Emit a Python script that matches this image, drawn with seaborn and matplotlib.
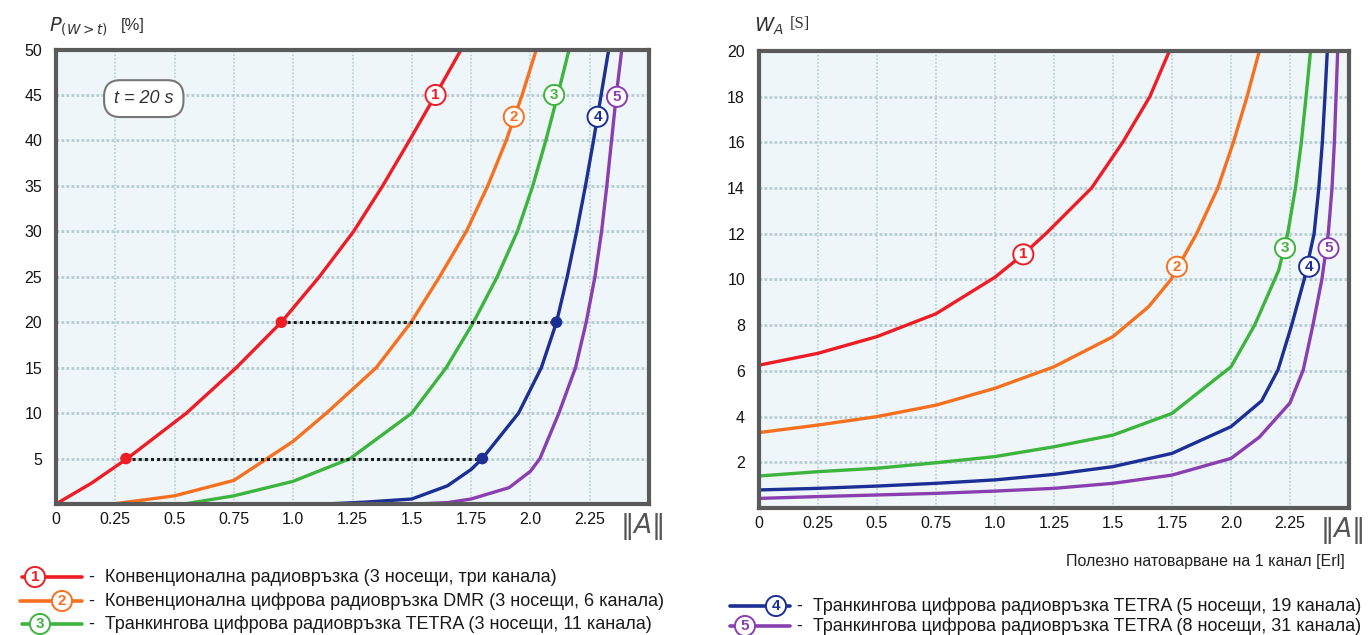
import numpy as np
import pandas as pd
import matplotlib
matplotlib.use("Agg")
import matplotlib.pyplot as plt
import seaborn as sns

# Left chart: P(W>t) [%] vs load A, t = 20 s
p_levels = [0, 2.3, 5, 10, 15, 20, 25, 30, 35, 40, 45, 50]
left_A1 = [0, 0.15, 0.3, 0.55, 0.76, 0.95, 1.11, 1.255, 1.377, 1.49, 1.60, 1.708]
left_A2 = [0.24, 0.5, 0.75, 0.89, 1.0, 1.14, 1.35, 1.497, 1.617, 1.73, 1.82, 1.898, 1.965, 2.025]
left_P2 = [0, 0.9, 2.6, 5, 6.9, 10, 15, 20, 25, 30, 35, 40, 45, 50]
left_A3 = [0.54, 0.75, 1.0, 1.24, 1.5, 1.645, 1.76, 1.86, 1.945, 2.01, 2.065, 2.115, 2.163]
left_P3 = [0, 0.9, 2.5, 5, 10, 15, 20, 25, 30, 35, 40, 45, 50]
left_A4 = [1.135, 1.3, 1.5, 1.65, 1.75, 1.797, 1.95, 2.046, 2.11, 2.155, 2.195, 2.232, 2.266, 2.298, 2.33]
left_P4 = [0, 0.2, 0.55, 2.0, 3.8, 5, 10, 15, 20, 25, 30, 35, 40, 45, 50]
left_A5 = [1.523, 1.65, 1.75, 1.91, 2.0, 2.04, 2.12, 2.19, 2.235, 2.272, 2.30, 2.322, 2.342, 2.362, 2.385]
left_P5 = [0, 0.15, 0.55, 1.8, 3.6, 5, 10, 15, 20, 25, 30, 35, 40, 45, 50]
left_label_pos = [(1.60, 45), (1.93, 42.6), (2.10, 45), (2.283, 42.6), (2.365, 44.8)]
mark_P = [5, 20]
mark_A_red = [0.295, 0.95]
mark_A_blue = [1.797, 2.11]

# Right chart: W_A [s] vs load A
right_A1 = [0, 0.25, 0.5, 0.75, 1.0, 1.12, 1.22, 1.409, 1.541, 1.656, 1.739]
right_W1 = [6.25, 6.77, 7.5, 8.5, 10.1, 11.1, 12.05, 14, 16, 18, 20]
right_A2 = [0, 0.25, 0.5, 0.75, 1.0, 1.25, 1.5, 1.65, 1.746, 1.854, 1.944, 2.01, 2.068, 2.12]
right_W2 = [3.3, 3.63, 4.0, 4.5, 5.24, 6.18, 7.5, 8.8, 10, 12, 14, 16, 18, 20]
right_A3 = [0, 0.25, 0.5, 0.75, 1.0, 1.25, 1.5, 1.75, 2.0, 2.10, 2.202, 2.24, 2.273, 2.298, 2.318, 2.337]
right_W3 = [1.4, 1.59, 1.74, 1.98, 2.25, 2.68, 3.19, 4.14, 6.18, 8, 10.4, 12, 14, 16, 18, 20]
right_A4 = [0, 0.25, 0.5, 0.75, 1.0, 1.25, 1.5, 1.75, 2.0, 2.13, 2.199, 2.257, 2.31, 2.352, 2.372, 2.387, 2.398, 2.408]
right_W4 = [0.79, 0.86, 0.96, 1.08, 1.23, 1.47, 1.81, 2.39, 3.56, 4.69, 6.04, 8, 10, 12, 14, 16, 18, 20]
right_A5 = [0, 0.25, 0.5, 0.75, 1.0, 1.25, 1.5, 1.75, 2.0, 2.12, 2.25, 2.306, 2.347, 2.385, 2.412, 2.428, 2.438, 2.452]
right_W5 = [0.42, 0.5, 0.57, 0.64, 0.74, 0.86, 1.08, 1.44, 2.17, 3.1, 4.6, 6.04, 8, 10, 12, 14, 16, 20]
right_label_pos = [(1.12, 11.1), (1.771, 10.56), (2.229, 11.37), (2.331, 10.56), (2.413, 11.37)]

x_ticks = [0, 0.25, 0.5, 0.75, 1.0, 1.25, 1.5, 1.75, 2.0, 2.25]
x_ticklabels = ["0", "0.25", "0.5", "0.75", "1.0", "1.25", "1.5", "1.75", "2.0", "2.25"]
left_yticks = [5, 10, 15, 20, 25, 30, 35, 40, 45, 50]
right_yticks = [2, 4, 6, 8, 10, 12, 14, 16, 18, 20]

curve_ids = ["1", "2", "3", "4", "5"]
colors = ["#ee1c25", "#f7701f", "#3db43d", "#1c2f94", "#8a3fb0"]
legend_texts = [
    "-  Конвенционална радиовръзка (3 носещи, три канала)",
    "-  Конвенционална цифрова радиовръзка DMR (3 носещи, 6 канала)",
    "-  Транкингова цифрова радиовръзка TETRA (3 носещи, 11 канала)",
    "-  Транкингова цифрова радиовръзка TETRA (5 носещи, 19 канала)",
    "-  Транкингова цифрова радиовръзка TETRA (8 носещи, 31 канала)",
]

sns.set_theme(style="white")
plt.rcParams["font.family"] = ["Liberation Sans", "DejaVu Sans"]

fig = plt.figure(figsize=(13.69, 6.35), dpi=100)
ax_l = fig.add_axes([0.0409, 0.2063, 0.4332, 0.7157])
ax_r = fig.add_axes([0.5544, 0.2000, 0.4310, 0.7197])


def style_axes(ax, ymax, yticks):
    ax.set_facecolor("#eef6fa")
    ax.set_xlim(0, 2.5)
    ax.set_ylim(0, ymax)
    ax.set_xticks(x_ticks)
    ax.set_xticklabels(x_ticklabels)
    ax.set_yticks(yticks)
    ax.tick_params(axis="both", length=0, labelsize=11.5, colors="#151515")
    ax.tick_params(axis="y", pad=10)
    ax.tick_params(axis="x", pad=6)
    ax.xaxis.grid(True, linestyle=(0, (1, 1)), color="#bfd3d9", lw=1.3)
    ax.yaxis.grid(True, linestyle=(0, (1, 0.8)), color="#b7ccd2", lw=2.0)
    ax.set_axisbelow(True)
    for sp in ax.spines.values():
        sp.set_visible(True)
        sp.set_color("#5a5a5a")
        sp.set_linewidth(3)
    ax.set_xlabel("")
    ax.set_ylabel("")
    ax.annotate(r"$\Vert A\Vert$", xy=(2.47, -0.05), xycoords=("data", "axes fraction"),
                ha="center", va="center", fontsize=19, color="#555555",
                annotation_clip=False)


def circle_label(ax, x, y, txt, col, **kw):
    ax.text(x, y, txt, color=col, fontsize=11, fontweight="bold", ha="center", va="center",
            bbox=dict(boxstyle="circle,pad=0.2", fc="white", ec=col, lw=1.4), zorder=6, **kw)


# left chart
left_series = [(left_A1, p_levels), (left_A2, left_P2), (left_A3, left_P3),
               (left_A4, left_P4), (left_A5, left_P5)]
for (a, p), col in zip(left_series, colors):
    sns.lineplot(x=a, y=p, ax=ax_l, color=col, lw=2.4, sort=False, estimator=None)

for p, a_red, a_blue in zip(mark_P, mark_A_red, mark_A_blue):
    ax_l.plot([a_red, a_blue], [p, p], linestyle=(0, (1, 1)), color="#1e1e1e", lw=2.2, zorder=4)
sns.scatterplot(x=mark_A_red, y=mark_P, ax=ax_l, color=colors[0], s=70, edgecolor="none", zorder=5)
sns.scatterplot(x=mark_A_blue, y=mark_P, ax=ax_l, color=colors[3], s=70, edgecolor="none", zorder=5)

for (x, y), txt, col in zip(left_label_pos, curve_ids, colors):
    circle_label(ax_l, x, y, txt, col)

ax_l.text(0.37, 44.6, "t = 20 s", fontsize=13, fontstyle="italic", ha="center", va="center",
          color="#333333",
          bbox=dict(boxstyle="round,pad=0.55,rounding_size=0.9", fc="white", ec="#777777", lw=1.5))
style_axes(ax_l, 50, left_yticks)

# right chart
right_series = [(right_A1, right_W1), (right_A2, right_W2), (right_A3, right_W3),
                (right_A4, right_W4), (right_A5, right_W5)]
for (a, w), col in zip(right_series, colors):
    sns.lineplot(x=a, y=w, ax=ax_r, color=col, lw=2.4, sort=False, estimator=None)
for (x, y), txt, col in zip(right_label_pos, curve_ids, colors):
    circle_label(ax_r, x, y, txt, col)
style_axes(ax_r, 20, right_yticks)

# axis titles
fig.text(0.036, 0.958, r"$P_{(W>t)}$", fontsize=14, color="#333333", ha="left", va="center")
fig.text(0.088, 0.960, "[%]", fontsize=12, color="#333333", ha="left", va="center")
fig.text(0.551, 0.958, r"$W_A$", fontsize=14, color="#333333", ha="left", va="center")
fig.text(0.577, 0.962, "[S]", fontsize=12, color="#333333", ha="left", va="center",
         family=["Liberation Serif", "DejaVu Serif"])
fig.text(0.982, 0.115, "Полезно натоварване на 1 канал [Erl]", fontsize=11.5, color="#222222",
         ha="right", va="center")

# legends
leg = fig.add_axes([0, 0, 1, 1], facecolor="none")
leg.set_xlim(0, 1369)
leg.set_ylim(635, 0)
leg.axis("off")
legend_rows = [(22, 82, 35, 577), (20, 82, 62, 601), (22, 82, 40, 624),
               (730, 790, 776, 606), (730, 790, 745, 626)]
for (x0, x1, xc, y), txt, col, num in zip(legend_rows, legend_texts, colors, curve_ids):
    leg.plot([x0, x1], [y, y], color=col, lw=2.6)
    circle_label(leg, xc, y, num, col)
    leg.text(x1 + 7, y, txt, fontsize=13, color="#1a1a1a", ha="left", va="center")

fig.savefig("out.png", dpi=100)
